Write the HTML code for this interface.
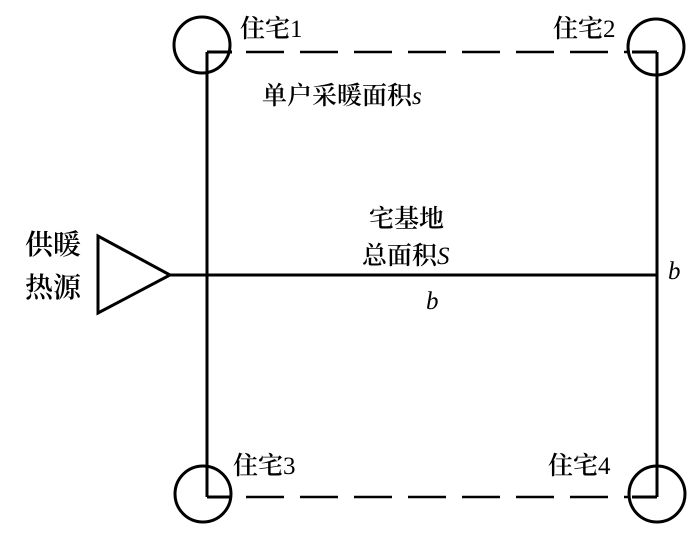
<!DOCTYPE html>
<html><head><meta charset="utf-8"><style>
html,body{margin:0;padding:0;background:#fff;}
svg{display:block}
text{font-family:"Liberation Serif","Noto Serif CJK SC","Noto Sans CJK SC",serif;font-size:25px;font-weight:normal;fill:#000}
.c{font-weight:600}
.i{font-style:italic}
</style></head><body>
<svg width="700" height="535" viewBox="0 0 700 535">
<g stroke="#000" stroke-width="3" fill="none">
<line x1="207" y1="52" x2="207" y2="497"/>
<line x1="657" y1="52" x2="657" y2="497"/>
<line x1="170" y1="275" x2="657" y2="275"/>
<line x1="207" y1="52" x2="232" y2="52"/>
<line x1="632" y1="52" x2="657" y2="52"/>
<line x1="207" y1="497" x2="232" y2="497"/>
<line x1="632" y1="497" x2="657" y2="497"/>
<line x1="246" y1="52" x2="630" y2="52" stroke-dasharray="38,16" stroke-width="2.5"/>
<line x1="246" y1="497" x2="630" y2="497" stroke-dasharray="38,16" stroke-width="2.5"/>
<circle cx="202" cy="45" r="28"/>
<circle cx="656" cy="47" r="28"/>
<circle cx="203" cy="494" r="28"/>
<circle cx="657" cy="494" r="28"/>
<polygon points="98,236 98,313 170,275"/>
</g>
<text x="240" y="37"><tspan class="c">住宅</tspan>1</text>
<text x="553" y="37"><tspan class="c">住宅</tspan>2</text>
<text x="262" y="104"><tspan class="c">单户采暖面积</tspan><tspan class="i">s</tspan></text>
<text x="369" y="227" class="c">宅基地</text>
<text x="362" y="264"><tspan class="c">总面积</tspan><tspan class="i">S</tspan></text>
<text x="426" y="309" class="i">b</text>
<text x="668" y="279" class="i">b</text>
<text x="25" y="254" class="c" style="font-size:28px">供暖</text>
<text x="25" y="297" class="c" style="font-size:28px">热源</text>
<text x="233" y="474"><tspan class="c">住宅</tspan>3</text>
<text x="548" y="474"><tspan class="c">住宅</tspan>4</text>
</svg>
</body></html>
